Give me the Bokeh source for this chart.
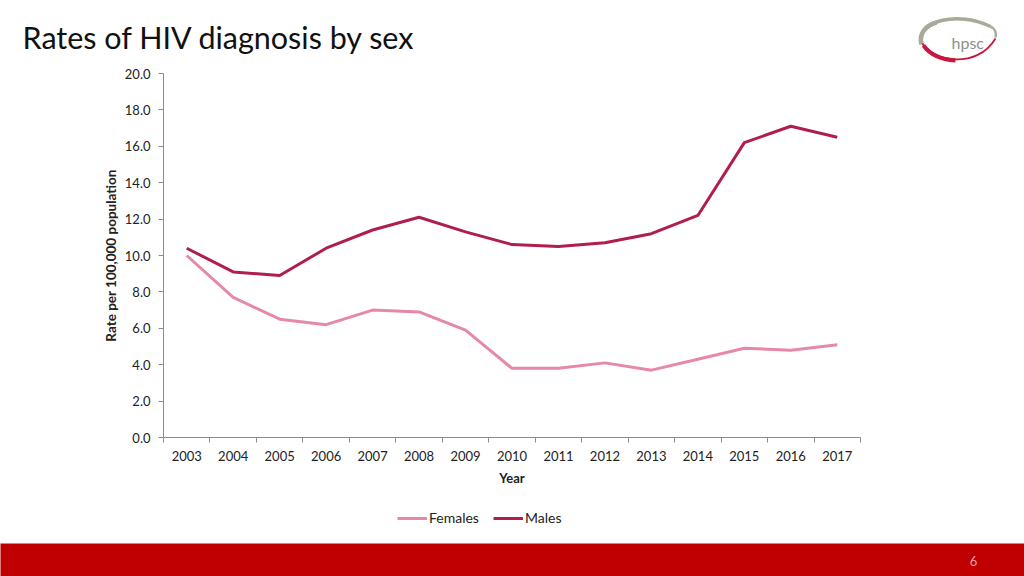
from bokeh.plotting import figure
from bokeh.models import (Range1d, FixedTicker, NumeralTickFormatter, Legend, LegendItem, Label)
from bokeh.layouts import column, row
from bokeh.embed import file_html
from bokeh.resources import INLINE
from bokeh.core.properties import value

# ---------------- data ----------------
years = [2003, 2004, 2005, 2006, 2007, 2008, 2009, 2010, 2011, 2012, 2013, 2014, 2015, 2016, 2017]
females = [10.0, 7.7, 6.5, 6.2, 7.0, 6.9, 5.9, 3.8, 3.8, 4.1, 3.7, 4.3, 4.9, 4.8, 5.1]
males = [10.4, 9.1, 8.9, 10.4, 11.4, 12.1, 11.3, 10.6, 10.5, 10.7, 11.2, 12.2, 16.2, 17.1, 16.5]
y_ticks = [0, 2, 4, 6, 8, 10, 12, 14, 16, 18, 20]
series_names = ["Females", "Males"]
title_text = "Rates of HIV diagnosis by sex"
y_label = "Rate per 100,000 population"
x_label = "Year"
page_no = "6"

FONT = "Lato"
AXIS_GRAY = "#8C8C8C"
MALE_C = "#B01F4B"
FEMALE_C = "#E688A8"
W = 1024


def bare(fig, bg="white"):
    fig.axis.visible = False
    fig.grid.visible = False
    fig.outline_line_color = None
    fig.background_fill_color = bg
    fig.border_fill_color = bg
    return fig


def nob(**kw):
    return dict(min_border=0, min_border_left=0, min_border_right=0,
                min_border_top=0, min_border_bottom=0, **kw)


# ---------------- header (title + logo) ----------------
H_HEAD = 63
head = bare(figure(width=W, height=H_HEAD, output_backend="svg", toolbar_location=None,
                   x_range=Range1d(0, W), y_range=Range1d(H_HEAD, 0), **nob()))
head.text(x=[22], y=[36.5], text=[title_text], text_font=value(FONT), text_font_size="30.5px",
          text_color="#111111", text_baseline="alphabetic", text_align="left")
# logo: grey upper swoosh, red lower swoosh, grey "hpsc"
head.bezier(x0=[921], y0=[42], x1=[990], y1=[26], cx0=[917], cy0=[20], cx1=[958], cy1=[10],
            line_color="#A9A99A", line_width=3.5)
head.bezier(x0=[921], y0=[44], x1=[936], y1=[22], cx0=[918], cy0=[33], cx1=[925], cy1=[25],
            line_color="#A9A99A", line_width=4.5)
head.bezier(x0=[990], y0=[26], x1=[995], y1=[37], cx0=[995], cy0=[28], cx1=[996], cy1=[33],
            line_color="#A9A99A", line_width=2.5)
head.bezier(x0=[922], y0=[43], x1=[995], y1=[38], cx0=[930], cy0=[60], cx1=[976], cy1=[70],
            line_color="#C8173F", line_width=1.8)
head.bezier(x0=[923], y0=[45], x1=[955], y1=[60], cx0=[930], cy0=[55], cx1=[942], cy1=[59],
            line_color="#C8173F", line_width=4)
head.text(x=[951], y=[41.5], text=["hpsc"], text_font=value(FONT), text_font_size="16px",
          text_color="#8F8F8F", text_baseline="alphabetic", text_align="left")

# ---------------- main chart ----------------
TOP = H_HEAD            # canvas top in page px
BOT = 492               # canvas bottom in page px
p = figure(width=W, height=BOT - TOP, output_backend="svg", toolbar_location=None,
           x_range=Range1d(years[0] - 0.5, years[-1] + 0.5), y_range=Range1d(0, 20),
           min_border_left=163, min_border_right=W - 860, min_border_top=73 - TOP,
           min_border_bottom=BOT - 437)
p.outline_line_color = None
p.grid.visible = False
p.background_fill_color = "white"
p.border_fill_color = "white"

p.line(years, females, line_color=FEMALE_C, line_width=3)
p.line(years, males, line_color=MALE_C, line_width=3)

xa = p.xaxis[0]
xa.ticker = FixedTicker(ticks=years, minor_ticks=[y - 0.5 for y in years] + [years[-1] + 0.5])
xa.major_tick_out = 0
xa.major_tick_in = 0
xa.minor_tick_out = 5
xa.minor_tick_in = 0
xa.minor_tick_line_color = AXIS_GRAY
xa.axis_line_color = AXIS_GRAY
xa.major_label_text_font = FONT
xa.major_label_text_font_size = "13px"
xa.major_label_text_color = "#222222"
xa.major_label_standoff = 8
xa.axis_label = x_label
xa.axis_label_text_font = FONT
xa.axis_label_text_font_style = "bold"
xa.axis_label_text_font_size = "13px"
xa.axis_label_text_color = "#222222"
xa.axis_label_standoff = 6

ya = p.yaxis[0]
ya.ticker = FixedTicker(ticks=y_ticks, minor_ticks=[])
ya.formatter = NumeralTickFormatter(format="0.0")
ya.major_tick_out = 5
ya.major_tick_in = 0
ya.major_tick_line_color = AXIS_GRAY
ya.axis_line_color = AXIS_GRAY
ya.major_label_text_font = FONT
ya.major_label_text_font_size = "13px"
ya.major_label_text_color = "#222222"
ya.major_label_standoff = 8
ya.axis_label = y_label
ya.axis_label_text_font = FONT
ya.axis_label_text_font_style = "bold"
ya.axis_label_text_font_size = "13.5px"
ya.axis_label_text_color = "#222222"
ya.axis_label_standoff = 3

# ---------------- legend strip ----------------
H_LEG = 543 - BOT
lg = bare(figure(width=W, height=H_LEG, output_backend="svg", toolbar_location=None,
                 x_range=Range1d(0, 1), y_range=Range1d(0, 1), **nob()))
# same series drawn here (outside this strip's view) so the legend can show their line styles
lf = lg.line(years, females, line_color=FEMALE_C, line_width=3)
lm = lg.line(years, males, line_color=MALE_C, line_width=3)
legend = Legend(items=[LegendItem(label=series_names[0], renderers=[lf]),
                       LegendItem(label=series_names[1], renderers=[lm])],
                orientation="horizontal", location=(397, 17),
                label_text_font=FONT, label_text_font_size="14px", label_text_color="#222222",
                glyph_width=30, glyph_height=14, label_standoff=2, spacing=14,
                border_line_color=None, background_fill_alpha=0, padding=3, margin=0)
lg.add_layout(legend, "center")

# ---------------- red footer ----------------
foot = bare(figure(width=W, height=33, output_backend="svg", toolbar_location=None,
                   x_range=Range1d(0, W), y_range=Range1d(576, 543), **nob()), bg="#C00000")
foot.add_layout(Label(x=973, y=560, text=page_no, text_font=FONT, text_font_size="13px",
                      text_color="#E8A0A0", text_align="center", text_baseline="middle"))

layout = column(head, row(p, spacing=0), lg, foot, spacing=0)
open("out.html", "w").write(file_html(layout, INLINE))
